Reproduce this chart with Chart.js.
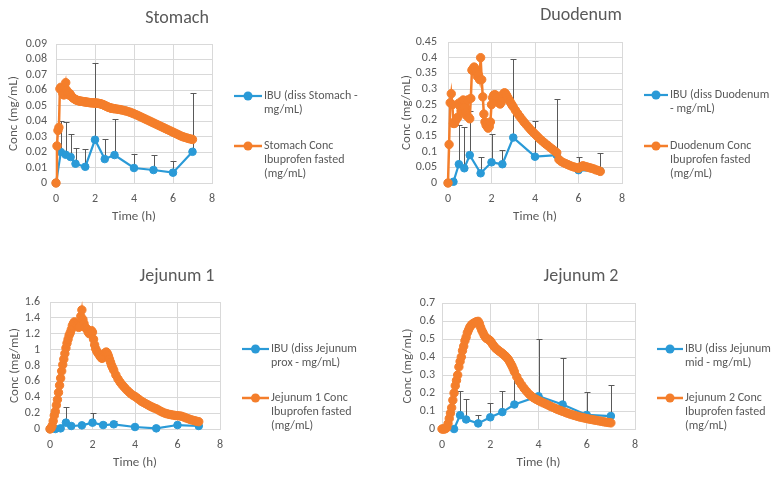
<!DOCTYPE html>
<html><head><meta charset="utf-8">
<script src="https://cdn.jsdelivr.net/npm/chart.js@4.4.1/dist/chart.umd.min.js"></script>
<style>
html,body{margin:0;padding:0;background:#fff;}
body{width:777px;height:477px;position:relative;overflow:hidden;}
canvas{position:absolute;}
</style></head><body>
<canvas id="c1" width="388" height="240" style="left:0px;top:0px"></canvas>
<canvas id="c2" width="388" height="240" style="left:389px;top:0px"></canvas>
<canvas id="c3" width="388" height="237" style="left:0px;top:240px"></canvas>
<canvas id="c4" width="388" height="237" style="left:389px;top:240px"></canvas>
<script>
// ---------- DATA ----------
const xTicks = [0, 2, 4, 6, 8];
const xTickLabels = ['0', '2', '4', '6', '8'];

const stomachTicks = [0, 0.01, 0.02, 0.03, 0.04, 0.05, 0.06, 0.07, 0.08, 0.09];
const stomachTickLabels = ['0', '0.01', '0.02', '0.03', '0.04', '0.05', '0.06', '0.07', '0.08', '0.09'];
const duodenumTicks = [0, 0.05, 0.1, 0.15, 0.2, 0.25, 0.3, 0.35, 0.4, 0.45];
const duodenumTickLabels = ['0', '0.05', '0.1', '0.15', '0.2', '0.25', '0.3', '0.35', '0.4', '0.45'];
const jejunum1Ticks = [0, 0.2, 0.4, 0.6, 0.8, 1, 1.2, 1.4, 1.6];
const jejunum1TickLabels = ['0', '0.2', '0.4', '0.6', '0.8', '1', '1.2', '1.4', '1.6'];
const jejunum2Ticks = [0, 0.1, 0.2, 0.3, 0.4, 0.5, 0.6, 0.7];
const jejunum2TickLabels = ['0', '0.1', '0.2', '0.3', '0.4', '0.5', '0.6', '0.7'];

// measured dissolution (blue) sampling times, h
const ibuTime = [0, 0.25, 0.5, 0.75, 1, 1.5, 2, 2.5, 3, 4, 5, 6, 7];
const ibuTimeJej2 = [0.5, 0.75, 1, 1.5, 2, 2.5, 3, 4, 5, 6, 7];

const stomachIbu = [0, 0.020, 0.0183, 0.0168, 0.0125, 0.0105, 0.028, 0.0155, 0.0181, 0.0097, 0.0084, 0.0067, 0.0202];
const stomachIbuErr = [null, 0.020, 0.0211, 0.015, 0.0099, 0.0115, 0.0497, 0.0129, 0.0234, 0.009, 0.0096, 0.0075, 0.0378];
const duodenumIbu = [0, 0.004, 0.06, 0.047, 0.089, 0.031, 0.066, 0.06, 0.145, 0.084, 0.089, 0.041, 0.038];
const duodenumIbuErr = [null, null, 0.126, 0.133, 0.141, 0.051, 0.09, 0.046, 0.251, 0.115, 0.178, 0.043, 0.059];
const jejunum1Ibu = [0, 0, 0.008, 0.08, 0.038, 0.046, 0.08, 0.05, 0.059, 0.025, 0.008, 0.05, 0.038];
const jejunum1IbuErr = [null, null, null, 0.2, null, null, 0.126, 0.034, 0.038, null, null, null, null];
const jejunum2Ibu = [0, 0.077, 0.053, 0.031, 0.065, 0.094, 0.136, 0.182, 0.136, 0.078, 0.072];
const jejunum2IbuErr = [null, 0.133, 0.111, 0.045, 0.08, 0.116, 0.17, 0.318, 0.257, 0.127, 0.175];

// simulated (orange) output times, h
const simTime = [0, 0.05, 0.1, 0.15, 0.2, 0.25, 0.3, 0.35, 0.4, 0.45, 0.5, 0.55, 0.6, 0.65, 0.7, 0.75, 0.8, 0.85, 0.9, 0.95,
  1, 1.05, 1.1, 1.15, 1.2, 1.25, 1.3, 1.35, 1.4, 1.45, 1.5, 1.55, 1.6, 1.65, 1.7, 1.75, 1.8, 1.85, 1.9, 1.95,
  2, 2.05, 2.1, 2.15, 2.2, 2.25, 2.3, 2.35, 2.4, 2.45, 2.5, 2.55, 2.6, 2.65, 2.7, 2.75, 2.8, 2.85, 2.9, 2.95, 3,
  3.1, 3.2, 3.3, 3.4, 3.5, 3.6, 3.7, 3.8, 3.9, 4, 4.1, 4.2, 4.3, 4.4, 4.5, 4.6, 4.7, 4.8, 4.9, 5,
  5.1, 5.2, 5.3, 5.4, 5.5, 5.6, 5.7, 5.8, 5.9, 6, 6.1, 6.2, 6.3, 6.4, 6.5, 6.6, 6.7, 6.8, 6.9, 7];

const stomachSim = [0, 0.024, 0.034, 0.036, 0.061, 0.062, 0.06, 0.058, 0.057, 0.062, 0.065, 0.06, 0.058, 0.057, 0.058, 0.057, 0.056, 0.0553, 0.0548, 0.0544,
  0.054, 0.0537, 0.0535, 0.0533, 0.0531, 0.053, 0.0529, 0.0528, 0.0527, 0.0526, 0.0525, 0.0524, 0.0523, 0.0522, 0.0521, 0.052, 0.052, 0.0519, 0.0519, 0.0518,
  0.0518, 0.0517, 0.0517, 0.0516, 0.0515, 0.0514, 0.0512, 0.051, 0.0508, 0.0505, 0.0502, 0.0499, 0.0496, 0.0493, 0.049, 0.0488, 0.0486, 0.0484, 0.0483, 0.0482, 0.0481,
  0.0479, 0.0477, 0.0475, 0.0472, 0.0469, 0.0466, 0.0462, 0.0458, 0.0453, 0.0448, 0.0443, 0.0437, 0.0431, 0.0425, 0.0419, 0.0413, 0.0407, 0.0401, 0.0395, 0.0389,
  0.0383, 0.0377, 0.0371, 0.0365, 0.0359, 0.0353, 0.0347, 0.0341, 0.0335, 0.0329, 0.0323, 0.0317, 0.0311, 0.0305, 0.03, 0.0296, 0.0292, 0.0288, 0.0285, 0.0282];

const duodenumSim = [0, 0.123, 0.256, 0.285, 0.25, 0.19, 0.19, 0.2, 0.205, 0.21, 0.255, 0.245, 0.23, 0.26, 0.265, 0.24, 0.225, 0.215, 0.265, 0.21,
  0.205, 0.27, 0.36, 0.365, 0.37, 0.365, 0.355, 0.34, 0.345, 0.33, 0.4, 0.33, 0.275, 0.22, 0.195, 0.185, 0.18, 0.175, 0.18, 0.195,
  0.25, 0.272, 0.28, 0.282, 0.28, 0.272, 0.262, 0.255, 0.252, 0.258, 0.272, 0.285, 0.288, 0.285, 0.279, 0.272, 0.266, 0.26, 0.254, 0.248, 0.243,
  0.232, 0.222, 0.212, 0.203, 0.194, 0.186, 0.178, 0.17, 0.163, 0.156, 0.149, 0.142, 0.136, 0.13, 0.124, 0.119, 0.113, 0.108, 0.102, 0.097,
  0.075, 0.069, 0.065, 0.062, 0.059, 0.056, 0.053, 0.051, 0.049, 0.047, 0.052, 0.055, 0.053, 0.051, 0.049, 0.047, 0.045, 0.042, 0.04, 0.037];

const jejunum1Sim = [0, 0.01, 0.04, 0.1, 0.17, 0.22, 0.3, 0.37, 0.46, 0.55, 0.64, 0.73, 0.81, 0.88, 0.95, 1.02, 1.08, 1.13, 1.18, 1.21,
  1.25, 1.3, 1.33, 1.35, 1.33, 1.31, 1.3, 1.28, 1.29, 1.42, 1.5, 1.38, 1.33, 1.28, 1.27, 1.25, 1.22, 1.2, 1.21, 1.24,
  1.22, 1.13, 1.06, 1.01, 0.98, 0.96, 0.94, 0.92, 0.9, 0.89, 0.9, 0.93, 0.96, 0.97, 0.95, 0.92, 0.88, 0.84, 0.8, 0.77, 0.74,
  0.68, 0.63, 0.59, 0.555, 0.525, 0.495, 0.47, 0.445, 0.425, 0.41, 0.39, 0.37, 0.35, 0.335, 0.32, 0.305, 0.29, 0.277, 0.265, 0.255,
  0.24, 0.225, 0.212, 0.2, 0.192, 0.185, 0.18, 0.175, 0.17, 0.168, 0.165, 0.16, 0.15, 0.14, 0.13, 0.12, 0.112, 0.105, 0.098, 0.092];

const jejunum2Sim = [0, 0, 0, 0.002, 0.008, 0.03, 0.058, 0.088, 0.118, 0.16, 0.2, 0.24, 0.27, 0.3, 0.345, 0.375, 0.4, 0.435, 0.46, 0.49,
  0.51, 0.535, 0.55, 0.565, 0.575, 0.582, 0.587, 0.59, 0.594, 0.597, 0.598, 0.585, 0.565, 0.548, 0.535, 0.52, 0.51, 0.503, 0.5, 0.495,
  0.49, 0.48, 0.47, 0.461, 0.452, 0.446, 0.44, 0.435, 0.43, 0.425, 0.42, 0.414, 0.408, 0.402, 0.395, 0.386, 0.375, 0.363, 0.35, 0.335, 0.318,
  0.29, 0.265, 0.245, 0.226, 0.21, 0.195, 0.183, 0.173, 0.165, 0.158, 0.151, 0.145, 0.139, 0.133, 0.126, 0.12, 0.114, 0.108, 0.103, 0.098,
  0.093, 0.088, 0.083, 0.079, 0.075, 0.071, 0.067, 0.064, 0.061, 0.058, 0.055, 0.053, 0.05, 0.048, 0.045, 0.043, 0.04, 0.038, 0.036, 0.034];

const panelTitles = ['Stomach', 'Duodenum', 'Jejunum 1', 'Jejunum 2'];
const ibuLabels = ['IBU (diss Stomach - mg/mL)', 'IBU (diss Duodenum - mg/mL)', 'IBU (diss Jejunum prox - mg/mL)', 'IBU (diss Jejunum mid - mg/mL)'];
const simLabels = ['Stomach Conc Ibuprofen fasted (mg/mL)', 'Duodenum Conc Ibuprofen fasted (mg/mL)', 'Jejunum 1 Conc Ibuprofen fasted (mg/mL)', 'Jejunum 2 Conc Ibuprofen fasted (mg/mL)'];
const ibuLegendLines = [['IBU (diss Stomach -', 'mg/mL)'], ['IBU (diss Duodenum', '- mg/mL)'], ['IBU (diss Jejunum', 'prox - mg/mL)'], ['IBU (diss Jejunum', 'mid - mg/mL)']];
const simLegendLines = [['Stomach Conc', 'Ibuprofen fasted', '(mg/mL)'], ['Duodenum Conc', 'Ibuprofen fasted', '(mg/mL)'], ['Jejunum 1 Conc', 'Ibuprofen fasted', '(mg/mL)'], ['Jejunum 2 Conc', 'Ibuprofen fasted', '(mg/mL)']];
const xAxisTitle = 'Time (h)';
const yAxisTitle = 'Conc (mg/mL)';

// ---------- STYLE ----------
const FONT = 'Carlito, Lato, "Open Sans", sans-serif';
const TXT = '#595959';
const BLUE = '#2a9ad7';
const ORANGE = '#f47e2b';
const GRID = '#d9d9d9';
const ERR = '#595959';

function pts(xs, ys) { return xs.map((x, i) => ({ x: x, y: ys[i] })); }

const decor = {
  id: 'decor',
  beforeDatasetDraw(chart, args, o) {
    if (args.index !== 0) return;
    const ctx = chart.ctx, xs = chart.scales.x, ys = chart.scales.y;
    const data = chart.data.datasets[0].data;
    ctx.save();
    ctx.strokeStyle = ERR; ctx.lineWidth = 1;
    data.forEach((p, i) => {
      const e = o.err[i];
      if (e == null) return;
      const px = Math.round(xs.getPixelForValue(p.x)) + 0.5;
      const y0 = ys.getPixelForValue(p.y);
      const y1 = Math.round(ys.getPixelForValue(p.y + e)) + 0.5;
      ctx.beginPath();
      ctx.moveTo(px, y0); ctx.lineTo(px, y1);
      ctx.moveTo(px - 3, y1); ctx.lineTo(px + 3, y1);
      ctx.stroke();
    });
    ctx.restore();
  },
  afterDraw(chart, args, o) {
    const ctx = chart.ctx;
    ctx.save();
    ctx.fillStyle = TXT; ctx.textAlign = 'center'; ctx.textBaseline = 'middle';
    ctx.font = o.titleSize + 'px ' + FONT;
    ctx.fillText(o.title, o.titleX, o.titleY);
    o.legend.forEach((it, k) => {
      const ly = o.legY[k];
      ctx.strokeStyle = it.color; ctx.lineWidth = it.lw;
      ctx.beginPath(); ctx.moveTo(o.legX1, ly); ctx.lineTo(o.legX2, ly); ctx.stroke();
      ctx.fillStyle = it.color;
      ctx.beginPath(); ctx.arc((o.legX1 + o.legX2) / 2, ly, 4.5, 0, Math.PI * 2); ctx.fill();
      ctx.fillStyle = TXT; ctx.textAlign = 'left'; ctx.textBaseline = 'middle';
      ctx.font = o.legSize + 'px ' + FONT;
      it.lines.forEach((s, j) => ctx.fillText(s, o.legTX, ly + j * o.legLH));
    });
    ctx.restore();
  }
};

function makePanel(id, k, p) {
  const W = 388, H = p.H;
  new Chart(document.getElementById(id), {
    type: 'scatter',
    data: {
      datasets: [
        { label: ibuLabels[k], data: pts(p.ibuT, p.ibu), showLine: true, borderColor: BLUE, backgroundColor: BLUE,
          borderWidth: 2.2, pointRadius: 3.8, pointBorderWidth: 1, pointHoverRadius: 3.8, order: 2, clip: false },
        { label: simLabels[k], data: pts(simTime, p.sim), showLine: true, borderColor: ORANGE, backgroundColor: ORANGE,
          borderWidth: 2.5, pointRadius: 4.2, pointBorderWidth: 1, pointHoverRadius: 4.2, order: 1, clip: false }
      ]
    },
    options: {
      responsive: false, animation: false, devicePixelRatio: 1,
      layout: { padding: { left: 0, top: p.top, right: W - p.right, bottom: 0 } },
      plugins: {
        legend: { display: false }, tooltip: { enabled: false },
        decor: {
          err: p.err, title: panelTitles[k], titleX: p.titleX, titleY: p.titleY, titleSize: 18,
          legX1: p.legX1, legX2: p.legX2, legTX: p.legTX, legY: p.legY, legLH: 14, legSize: 12,
          legend: [ { color: BLUE, lw: 2.2, lines: ibuLegendLines[k] }, { color: ORANGE, lw: 2.5, lines: simLegendLines[k] } ]
        }
      },
      scales: {
        x: {
          type: 'linear', min: 0, max: 8,
          afterBuildTicks: s => { s.ticks = xTicks.map(v => ({ value: v })); },
          afterFit: s => { s.height = H - p.bottom; },
          ticks: { color: TXT, font: { family: FONT, size: 12 }, padding: 9, maxRotation: 0, autoSkip: false,
                   callback: (v, i) => xTickLabels[i] },
          grid: { color: GRID, drawTicks: false, lineWidth: 1 },
          border: { color: GRID, width: 1 },
          title: { display: true, text: xAxisTitle, color: TXT, font: { family: FONT, size: 13 }, padding: { top: 0, bottom: p.xTitlePad } }
        },
        y: {
          type: 'linear', min: 0, max: p.yTicks[p.yTicks.length - 1],
          afterBuildTicks: s => { s.ticks = p.yTicks.map(v => ({ value: v })); },
          afterFit: s => { s.width = p.left; },
          ticks: { color: TXT, font: { family: FONT, size: 12 }, padding: p.yPad, autoSkip: false,
                   callback: (v, i) => p.yLabels[i] },
          grid: { color: GRID, drawTicks: false, lineWidth: 1 },
          border: { color: GRID, width: 1 },
          title: { display: true, text: yAxisTitle, color: TXT, font: { family: FONT, size: 13 }, padding: { top: p.yTitlePad, bottom: 0 } }
        }
      }
    },
    plugins: [decor]
  });
}

makePanel('c1', 0, { H: 240, left: 56, right: 212, top: 44, bottom: 183, yTicks: stomachTicks, yLabels: stomachTickLabels,
  ibuT: ibuTime, ibu: stomachIbu, err: stomachIbuErr, sim: stomachSim, yPad: 9, xTitlePad: 15, yTitlePad: 6,
  titleX: 177, titleY: 18, legX1: 234, legX2: 262, legTX: 264, legY: [96, 146] });
makePanel('c2', 1, { H: 240, left: 59, right: 233, top: 42, bottom: 183, yTicks: duodenumTicks, yLabels: duodenumTickLabels,
  ibuT: ibuTime, ibu: duodenumIbu, err: duodenumIbuErr, sim: duodenumSim, yPad: 11, xTitlePad: 15, yTitlePad: 10,
  titleX: 192, titleY: 15, legX1: 255, legX2: 279, legTX: 281, legY: [95, 146] });
makePanel('c3', 2, { H: 237, left: 50, right: 220, top: 62, bottom: 189, yTicks: jejunum1Ticks, yLabels: jejunum1TickLabels,
  ibuT: ibuTime, ibu: jejunum1Ibu, err: jejunum1IbuErr, sim: jejunum1Sim, yPad: 10, xTitlePad: 6.5, yTitlePad: 6.5,
  titleX: 177, titleY: 36, legX1: 242, legX2: 269, legTX: 271, legY: [109, 158] });
makePanel('c4', 3, { H: 237, left: 53, right: 246, top: 63, bottom: 189, yTicks: jejunum2Ticks, yLabels: jejunum2TickLabels,
  ibuT: ibuTimeJej2, ibu: jejunum2Ibu, err: jejunum2IbuErr, sim: jejunum2Sim, yPad: 7, xTitlePad: 6.5, yTitlePad: 10.5,
  titleX: 192, titleY: 36, legX1: 268, legX2: 294, legTX: 296, legY: [109, 158] });
</script>
</body></html>
